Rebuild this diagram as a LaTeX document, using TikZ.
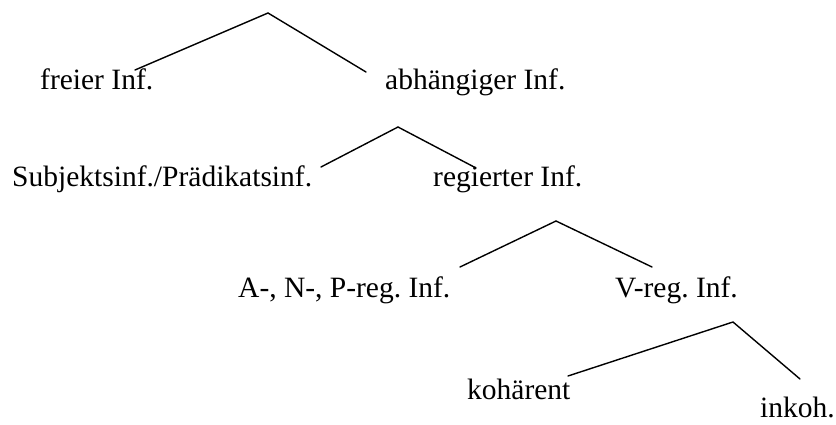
\documentclass[tikz,border=0pt]{standalone}
\usepackage{fontspec}
\setmainfont{Liberation Serif}
\frenchspacing
\begin{document}
\begin{tikzpicture}[x=1pt,y=-1pt,
  lbl/.style={anchor=base west, inner sep=0pt, font=\fontsize{29.5}{35}\selectfont},
  branch/.style={line width=1.4pt, line cap=round}]
\useasboundingbox (0,0) rectangle (836,425);
% level 1
\coordinate (t1) at (268,13);
\coordinate (t1l) at (135,70);
\coordinate (t1r) at (366,72);
\node[lbl] (freier) at (40,90) {freier Inf.};
\node[lbl] (abh) at (385,90) {abhängiger Inf.};
\draw[branch] (t1l) -- (t1) -- (t1r);
% level 2
\coordinate (t2) at (398,127);
\coordinate (t2l) at (321,167);
\coordinate (t2r) at (476,168);
\node[lbl] (subj) at (12,187) {Subjektsinf./Prädikatsinf.};
\node[lbl] (reg) at (433,187) {regierter Inf.};
\draw[branch] (t2l) -- (t2) -- (t2r);
% level 3
\coordinate (t3) at (556,221);
\coordinate (t3l) at (460,267);
\coordinate (t3r) at (652,267);
\node[lbl] (anp) at (238,297) {A-, N-, P-reg. Inf.};
\node[lbl] (vreg) at (615,297) {V-reg. Inf.};
\draw[branch] (t3l) -- (t3) -- (t3r);
% level 4
\coordinate (t4) at (733,322);
\coordinate (t4l) at (568,376);
\coordinate (t4r) at (800,379);
\node[lbl] (koh) at (467,399) {kohärent};
\node[lbl] (inkoh) at (760,417) {inkoh.};
\draw[branch] (t4l) -- (t4) -- (t4r);
\end{tikzpicture}
\end{document}
